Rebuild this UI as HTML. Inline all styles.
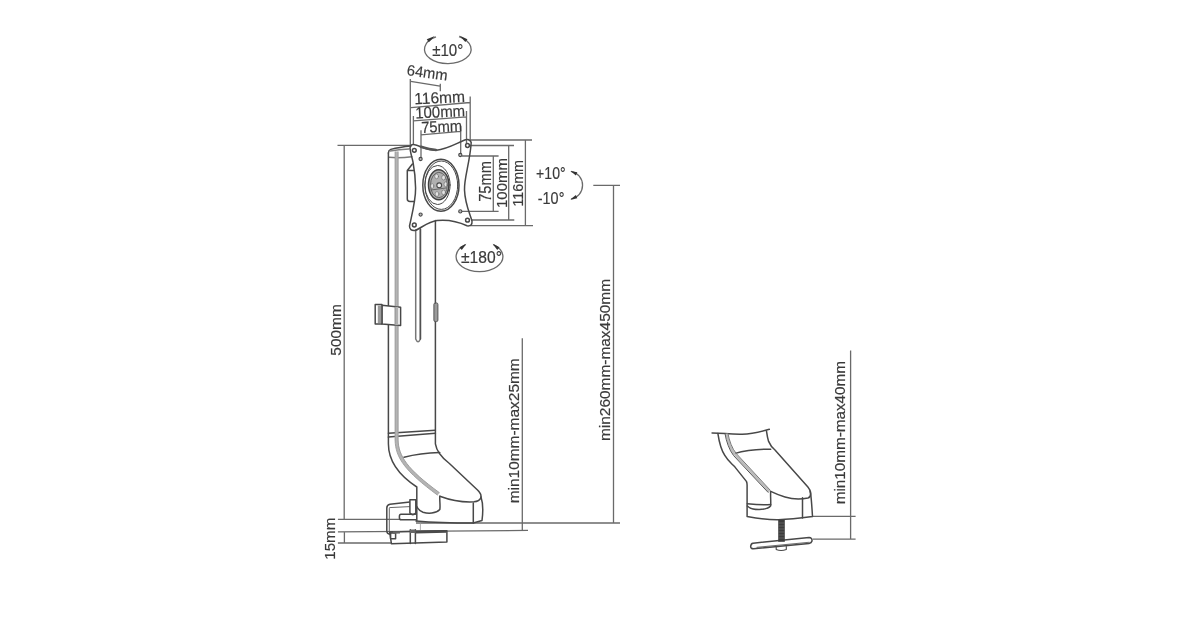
<!DOCTYPE html>
<html><head><meta charset="utf-8">
<style>
html,body{margin:0;padding:0;background:#fff;width:1200px;height:630px;overflow:hidden}
svg{display:block}
text{font-family:"Liberation Sans",sans-serif;fill:#3a3a3a;stroke:#3a3a3a;stroke-width:0.18}
svg{-webkit-font-smoothing:antialiased;will-change:transform}
.o{fill:none;stroke:#484848;stroke-width:1.5;stroke-linejoin:round;stroke-linecap:round}
.d{fill:none;stroke:#6a6a6a;stroke-width:1.3}
.g{fill:none;stroke:#888;stroke-width:1}
</style></head><body>
<svg width="1200" height="630" viewBox="0 0 1200 630">
<rect width="1200" height="630" fill="#fff"/>

<!-- ===== dimension lines, left unit ===== -->
<g class="d">
  <path d="M337.5 145.4H411 M344.2 145.4V519.3 M337.9 519.3H400 M337.9 531.9L528 530.4 M337.9 543H392 M344.4 531.8V543"/>
  <path d="M416 523H620 M522.3 338.3V530.5 M593.3 185.3H620 M613.5 185.3V523"/>
  <!-- plate dims right -->
  <path d="M470 140H532 M525.4 140V225.7 M470 225.7H533"/>
  <path d="M470 145.5H514 M508.7 145.5V220 M471 220H514.3"/>
  <path d="M461.8 156H498.6 M493.3 156V211.4 M462 211.4H498.6"/>
  <!-- plate dims top -->
  <path d="M410.3 79V145 M411 107.6L470 102.5 M470.2 96.5V140.5"/>
  <path d="M413.4 116V145 M413.4 120.9L466.5 116.8 M466.5 111V144"/>
  <path d="M421 130.3V159 M421 134.9L460.7 131.4 M460.7 126V155"/>
  <path d="M410.7 81.4L440.1 86.2 M440.3 83.8V91.3"/>
</g>

<!-- ===== texts ===== -->
<g font-size="15">
  <text transform="translate(341.4 355.7) rotate(-90)" textLength="51.6" lengthAdjust="spacingAndGlyphs">500mm</text>
  <text transform="translate(335.3 559.7) rotate(-90)" textLength="42" lengthAdjust="spacingAndGlyphs">15mm</text>
  <text transform="translate(519.3 503.3) rotate(-90)" textLength="145" lengthAdjust="spacingAndGlyphs">min10mm-max25mm</text>
  <text transform="translate(609.6 441) rotate(-90)" textLength="162" lengthAdjust="spacingAndGlyphs">min260mm-max450mm</text>
  <text transform="translate(845.4 504.3) rotate(-90)" textLength="143.3" lengthAdjust="spacingAndGlyphs">min10mm-max40mm</text>
  <text transform="translate(491.3 201.8) rotate(-90)" textLength="40.6" lengthAdjust="spacingAndGlyphs" font-size="16">75mm</text>
  <text transform="translate(506.7 208) rotate(-90)" textLength="50" lengthAdjust="spacingAndGlyphs">100mm</text>
  <text transform="translate(523.2 206.6) rotate(-90)" textLength="46.6" lengthAdjust="spacingAndGlyphs">116mm</text>
  <text transform="translate(414.6 104.2) rotate(-2.4)" textLength="50.6" lengthAdjust="spacingAndGlyphs" font-size="16">116mm</text>
  <text transform="translate(415.4 118.4) rotate(-2.4)" textLength="50" lengthAdjust="spacingAndGlyphs" font-size="16">100mm</text>
  <text transform="translate(421.4 132.9) rotate(-2.4)" textLength="41" lengthAdjust="spacingAndGlyphs" font-size="16">75mm</text>
  <text transform="translate(406.3 75.1) rotate(7.7)" textLength="41" lengthAdjust="spacingAndGlyphs">64mm</text>
  <text x="432.2" y="56" textLength="31.1" lengthAdjust="spacingAndGlyphs" font-size="16">±10°</text>
  <text x="461" y="262.5" textLength="40.9" lengthAdjust="spacingAndGlyphs" font-size="16.5">±180°</text>
  <text x="536.1" y="178.8" textLength="29.5" lengthAdjust="spacingAndGlyphs" font-size="16.5">+10°</text>
  <text x="537.8" y="204" textLength="26.6" lengthAdjust="spacingAndGlyphs" font-size="16.5">-10°</text>
</g>

<!-- ===== rotation arrows ===== -->
<g class="d" stroke="#4a4a4a" stroke-width="1.5">
  <path d="M436 36.8 A23.3 14.4 0 1 0 459 36.6"/>
  <path d="M465.5 244.6 A23.4 15 0 1 0 493.5 244.6"/>
  <path d="M571 171.3 A14.2 14.2 0 0 1 571 199.2"/>
</g>
<g fill="#333">
  <path d="M434.90 35.90 L428.82 42.28 L426.78 39.32 Z"/>
  <path d="M459.30 35.60 L467.44 39.13 L465.36 42.07 Z"/>
  <path d="M466.40 243.80 L461.75 249.99 L459.45 247.21 Z"/>
  <path d="M492.60 243.80 L499.55 247.21 L497.25 249.99 Z"/>
  <path d="M570.40 171.00 L577.34 172.16 L575.86 175.44 Z"/>
  <path d="M570.40 199.50 L575.86 195.06 L577.34 198.34 Z"/>
</g>

<!-- ===== column ===== -->
<g class="o">
  <path d="M388.4 153 Q388.5 150.3 390.8 149.4 C397 147.6 403 146.6 411 145.9"/>
  <path d="M390.2 151 C396 150.1 402 149.5 409 149.1" stroke="#808080" stroke-width="1.5"/>
  <path d="M388.9 157.3 Q400 158.3 411.8 156.7" stroke="#7a7a7a" stroke-width="1.6"/>
  <path d="M388.4 153 V443.8 C388.4 462 400 476 416.8 487 V521"/>
  <path d="M435.4 220.4 V443.8 C436.5 451 441 457 449.4 463.5 L477.5 490 C478.5 491 479 491.5 479.3 492 C482.5 496 481.5 501 474 501.8 C462 502.5 450 500 439.8 496.2"/>
  <path d="M388.4 433.2 L435.4 430.2 M388.4 437.1 L435.4 433.2"/>
  <path d="M404 457.3 Q420 453 439.8 452.5"/>
  <path d="M439.8 496.2 C439.5 501 440.5 506 439.8 509.5 C436 513.8 428 513.8 423 512.3 C420 511.3 418 509 416.8 506.5"/>
  <path d="M416 521 Q440 523 473.3 523 L482 520.5 C483 513 483 503 481 497"/>
  <path d="M473.3 503 L473.3 523"/>
</g>
<g fill="none" stroke="#b4b4b4" stroke-width="3.2">
  <path d="M396.6 151.5 V440 C397 457 406 470 438.6 494"/>
</g>
<g fill="none" stroke="#9a9a9a" stroke-width="0.9">
  <path d="M395.1 151.5 V440 C395.5 458 405 471 437.6 495.2"/>
  <path d="M398.1 151.5 V440 C398.5 456 407 469 439.6 492.8"/>
</g>

<!-- rod and spring -->
<g class="o" stroke-width="1.2">
  <path d="M415.7 230 V339 Q418 344.5 420.4 339 V229" stroke="#777"/>
  <path d="M420.4 229 V339" stroke="#505050"/>
  <rect x="433.9" y="302.9" width="4" height="18.7" rx="1.5" fill="#9a9a9a" stroke="#555" stroke-width="1"/>
</g>
<!-- cable clip -->
<g class="o" stroke-width="1.2">
  <path d="M381.9 305.3 L400.6 307.3 V325.6 L381.9 324 Z" fill="#fff"/>
  <rect x="375.2" y="304.5" width="6.7" height="19.5" fill="#fff"/>
</g>
<rect x="377.8" y="305.5" width="3.2" height="17.5" fill="#9a9a9a"/>
<path d="M396.6 306.8 V325.2" stroke="#b0b0b0" stroke-width="3.4"/>
<path d="M395 306.8 V325.2" stroke="#888" stroke-width="0.8"/>
<!-- ===== plate ===== -->
<g class="o">
  <path d="M410 149 Q410 144.5 413.5 144.6 C420 145.5 427 150.5 436.5 150.2 C447 149.5 458 142.5 465.5 139.8 Q469.8 138.4 471.2 142.5 C470 162 464 178 464.5 190 C465 204 470 214 472 221 Q472.5 226.5 467 225.8 C457 221 447 219.5 437 220.5 C428 221.5 420 229 415 230.5 Q409.5 231 409.5 226 C412 214 415.8 200 415.6 188 C415.4 178 414.5 170 413 162 C412 157 410.2 152 410.2 149 Z"/>
  <circle cx="414.3" cy="150.3" r="1.9"/>
  <circle cx="467.5" cy="145.5" r="1.9"/>
  <circle cx="467.5" cy="220.2" r="1.9"/>
  <circle cx="414.3" cy="225" r="1.9"/>
  <circle cx="420.6" cy="159" r="1.6" fill="#bbb" stroke-width="1.1"/>
  <circle cx="460.3" cy="155" r="1.6" fill="#bbb" stroke-width="1.1"/>
  <circle cx="460.3" cy="211.4" r="1.6" fill="#bbb" stroke-width="1.1"/>
  <circle cx="420.6" cy="214.6" r="1.6" fill="#bbb" stroke-width="1.1"/>
  <ellipse cx="440.9" cy="185.2" rx="18.1" ry="26"/>
  <ellipse cx="441.3" cy="185.2" rx="16.4" ry="24.2" stroke-width="1"/>
  <ellipse cx="437.5" cy="185" rx="12.6" ry="19.5" stroke-width="1"/>
  <ellipse cx="438.7" cy="184.8" rx="10.2" ry="15" fill="#b0b0b0" stroke="#404040" stroke-width="1.5"/>
  <ellipse cx="438.9" cy="185" rx="8.4" ry="12.7" stroke="#5a5a5a" stroke-width="0.9"/>
  <g fill="#e4e4e4" stroke="#666" stroke-width="0.6">
    <ellipse cx="436.6" cy="176.4" rx="1.9" ry="2.4"/><ellipse cx="443.6" cy="177.6" rx="1.9" ry="2.4"/>
    <ellipse cx="445.6" cy="184.3" rx="1.6" ry="2.4"/><ellipse cx="443.6" cy="192.4" rx="1.9" ry="2.4"/>
    <ellipse cx="437" cy="194" rx="1.9" ry="2.4"/><ellipse cx="432.2" cy="186" rx="1.6" ry="2.4"/>
  </g>
  <path d="M431 190 L446 188" stroke="#555" stroke-width="0.8"/>
  <circle cx="439.2" cy="185.3" r="2.4" fill="#f0f0f0" stroke-width="1.1"/>
  <path d="M421 146.8 C426 148.3 431 149.6 436 150" stroke="#555" stroke-width="2.6"/>
  <!-- handle -->
  <path d="M407.3 170.5 L412.4 164 M407.3 170.5 V199 Q407.3 201.4 410 201.4 H414 M407.3 170.5 H413.5"/>
</g>


<!-- ===== clamp ===== -->
<g class="o" stroke-width="1.2">
  <path d="M409.9 502.1 L390 504.2 Q386.8 504.6 386.8 508 V531 Q386.8 533.8 390 534.2"/>
  <path d="M389.3 508.5 V531.5 M389.7 507.6 L409.9 506.6" stroke="#666" stroke-width="1"/>
  <path d="M409.9 499.8 H415.8 V513 Q412.8 516.5 409.9 513 Z" fill="#fff"/>
  <path d="M415.4 514.3 H401 Q399.4 514.3 399.4 516.5 V518 Q399.4 519.8 401.5 519.8 H415.6"/>
  <path d="M389.7 532 L446.9 530.7 V542 L391.4 543.7 Z"/>
  <path d="M410.3 529.7 V543.6 M415.4 529.7 V543.4"/>
  <path d="M390.6 533 H395.6 V538.7 H390.6 Z" fill="#fff"/>
  <path d="M420.4 523 V530" stroke="#999" stroke-width="0.8"/>
</g>
<path d="M416 530.6 L446.5 530 L446.5 532.8 L416 533.4 Z" fill="#4a4a4a"/>
<path d="M393 531.5 L400 531.3 L400 533.5 L393 533.7 Z M410 529.5 H415.6 V533 H410 Z" fill="#666"/>

<!-- ===== right unit (grommet) ===== -->
<g class="d">
  <path d="M850.6 350.5V539.4 M813 516.4H855.6 M812.8 539.2H855.6"/>
</g>
<g class="o">
  <path d="M712.1 432.9 L725 433.6 C732 434.2 738 434.4 742.1 434.3 C752 434 760 432 769.3 429.3"/>
  <path d="M717.9 433.6 C719 441 721 450 725 455.7 C728 461 731 463 735 467.1 L746.4 481.4 Q747.1 483 747.1 485 V516.6 C760 519 770 519.8 778.4 519.7 C790 519.5 802 518 812.5 516.6 C812 508 811.5 500 810.4 491.4"/>
  <path d="M766.4 430.7 C767 435 767.5 438 768.6 441.4 C770.5 446 772.5 448 775 450 L807.9 487.1 C811.5 491 811.5 497 807.9 497.9 C800 499.5 792 499 785 497 C780 495.5 775 493.5 770.7 491.4"/>
  <path d="M770.7 491.4 C770.3 496 771 501 770.7 505.7 C767 510.5 752 511 747.3 506"/>
  <path d="M747.3 503.8 C755 504.5 764 505 770.7 504.5"/>
  <path d="M734.3 453.6 C745 450.5 758 449 770.7 449.3"/>
  <path d="M802.5 497.8 V518"/>
  <path d="M753 543.2 L809 537.6 Q812.3 537.8 812 541 Q811.5 543 809 543.4 L753.5 548.8 Q750.5 548.8 750.7 546.2 Q751 543.5 753 543.2 Z"/>
  <path d="M776.2 547.3 V549.5 Q781 551.5 786.3 549.5 V546.5" stroke-width="1.1"/>
  <path d="M757 547.3 L809 542.3" stroke-width="0.8"/>
</g>
<g fill="none" stroke="#bbb" stroke-width="2.4">
  <path d="M726.6 433.6 C727.8 441 730.8 449 735 454.6 L769.5 491.6"/>
</g>
<g fill="none" stroke="#555" stroke-width="1">
  <path d="M725 433.6 C726.2 441 729.2 450 733.6 455.6 L768.3 492.6"/>
  <path d="M728 433.6 C729.2 440.5 732 448.5 736.3 453.6 L770.4 490.4" stroke="#777"/>
</g>
<rect x="778.2" y="519.8" width="6.6" height="22" fill="#3c3c3c"/>
<g stroke="#777" stroke-width="0.6">
  <path d="M778.2 523H784.8 M778.2 526H784.8 M778.2 529H784.8 M778.2 532H784.8 M778.2 535H784.8 M778.2 538H784.8"/>
</g>
</svg>
</body></html>
